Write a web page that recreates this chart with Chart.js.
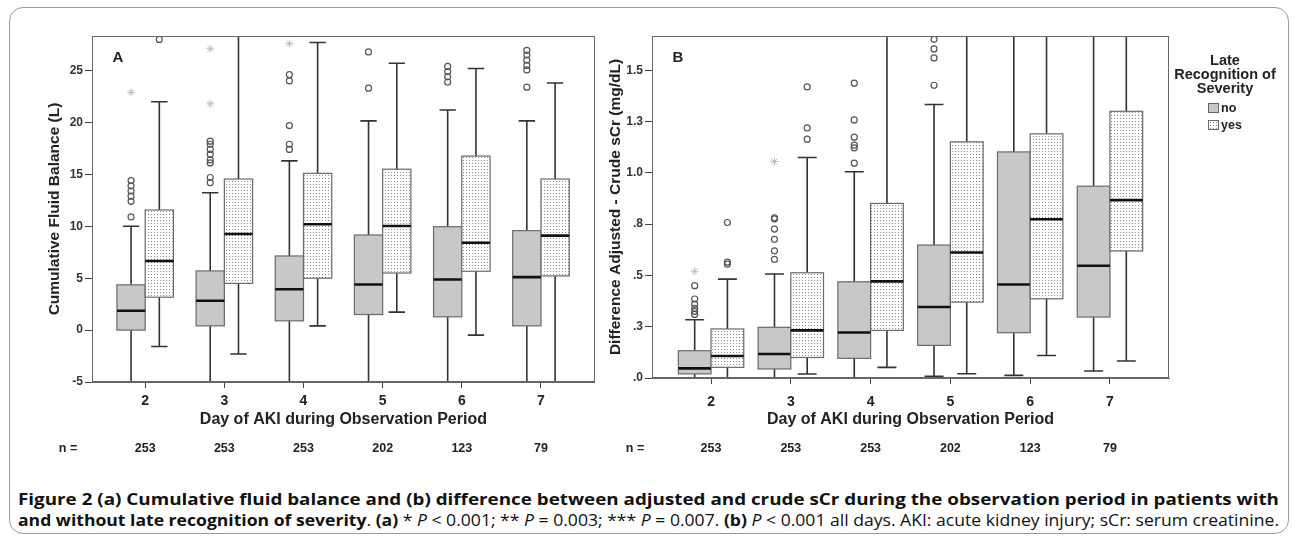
<!DOCTYPE html>
<html>
<head>
<meta charset="utf-8">
<script src="https://cdn.jsdelivr.net/npm/chart.js@4.4.1/dist/chart.umd.min.js"></script>
<style>
html,body{margin:0;padding:0;background:#fff;}
body{width:1294px;height:540px;overflow:hidden;position:relative;font-family:'Liberation Sans',Arial,sans-serif;color:#222;}
#frame{position:absolute;left:9px;top:7px;width:1280px;height:527px;border:1px solid #9a9a9a;border-radius:14px;box-sizing:border-box;}
#cA{position:absolute;left:0;top:0;}
#cB{position:absolute;left:600px;top:0;}
#legTitle{position:absolute;left:1165px;top:53px;width:120px;text-align:center;font-weight:bold;font-size:14.5px;line-height:14px;color:#222;}
.sw{position:absolute;left:1208px;width:9px;height:8px;border:1px solid #666;}
.swNo{top:103px;background:#c8c8c8;}
.swYes{top:120px;background-color:#fff;background-image:radial-gradient(#8f8f8f 0.6px, transparent 0.7px);background-size:3px 3px;}
.lt{position:absolute;left:1221px;font-weight:bold;font-size:12.5px;line-height:14px;color:#222;}
.cap{position:absolute;left:18px;white-space:nowrap;font-family:'Open Sans','Noto Sans',sans-serif;font-size:16.5px;line-height:20px;color:#111;transform-origin:0 0;}
.cap b{font-weight:700;}
</style>
</head>
<body>
<div id="frame"></div>
<canvas id="cA" width="600" height="470"></canvas>
<canvas id="cB" width="694" height="470"></canvas>
<div id="legTitle">Late<br>Recognition of<br>Severity</div>
<div class="sw swNo"></div><div class="lt" style="top:101px">no</div>
<div class="sw swYes"></div><div class="lt" style="top:118px">yes</div>
<div class="cap" id="cap1" style="top:489px"><b>Figure 2 (a) Cumulative fluid balance and (b) difference between adjusted and crude sCr during the observation period in patients with</b></div>
<div class="cap" id="cap2" style="top:510px"><b>and without late recognition of severity</b>. <b>(a)</b> * <i>P</i> &lt; 0.001; ** <i>P</i> = 0.003; *** <i>P</i> = 0.007. <b>(b)</b> <i>P</i> &lt; 0.001 all days. AKI: acute kidney injury; sCr: serum creatinine.</div>
<script>
// ---------- data ----------
const days = [2, 3, 4, 5, 6, 7];
const nCounts = [253, 253, 253, 202, 123, 79];
const yTicksA = [-5, 0, 5, 10, 15, 20, 25];
const yTicksB = [0, 0.25, 0.5, 0.75, 1, 1.25, 1.5];
const yTickLabelsB = ['.0', '.3', '.5', '.8', '1.0', '1.3', '1.5'];

// box stats per day: [lower whisker, Q1, median, Q3, upper whisker]
const aNoBox = [
  [-5, 0.0, 1.86, 4.36, 10.0],
  [-5, 0.41, 2.82, 5.7, 13.23],
  [-5, 0.89, 3.94, 7.14, 16.3],
  [-5, 1.5, 4.39, 9.16, 20.15],
  [-5, 1.28, 4.87, 9.96, 21.2],
  [-5, 0.41, 5.1, 9.58, 20.15]
];
const aYesBox = [
  [-1.58, 3.17, 6.66, 11.57, 22.0],
  [-2.3, 4.5, 9.26, 14.55, 28.5],
  [0.41, 5.0, 10.2, 15.1, 27.7],
  [1.73, 5.5, 10.03, 15.5, 25.7],
  [-0.48, 5.67, 8.42, 16.76, 25.2],
  [-5, 5.22, 9.1, 14.55, 23.8]
];
const aNoOut = [
  [10.9, 12.4, 12.9, 13.4, 13.9, 14.4],
  [14.2, 14.7, 16.1, 16.4, 16.95, 17.4, 17.9, 18.2],
  [17.4, 17.9, 19.7, 24.0, 24.6],
  [23.3, 26.8],
  [23.9, 24.4, 24.9, 25.4],
  [23.4, 25.06, 25.5, 26.0, 26.5, 26.95]
];
const aNoExt = [[22.9], [21.8, 27.1], [27.6], [], [], []];
const aYesOut = [[28.0], [], [], [], [], []];
const aYesExt = [[], [], [], [], [], []];

const bNoBox = [
  [0, 0.02, 0.047, 0.133, 0.284],
  [0, 0.044, 0.117, 0.247, 0.507],
  [0, 0.096, 0.222, 0.469, 1.005],
  [0.008, 0.159, 0.346, 0.648, 1.333],
  [0.013, 0.221, 0.456, 1.102, 1.7],
  [0.034, 0.297, 0.547, 0.935, 1.7]
];
const bYesBox = [
  [0, 0.052, 0.107, 0.239, 0.482],
  [0.0195, 0.1, 0.232, 0.513, 1.075],
  [0.052, 0.232, 0.471, 0.851, 1.7],
  [0.021, 0.37, 0.612, 1.151, 1.7],
  [0.11, 0.386, 0.774, 1.19, 1.7],
  [0.083, 0.619, 0.867, 1.3, 1.7]
];
const bNoOut = [
  [0.31, 0.325, 0.34, 0.36, 0.385, 0.45],
  [0.578, 0.62, 0.676, 0.726, 0.776, 0.781],
  [1.047, 1.122, 1.135, 1.174, 1.258, 1.437],
  [1.427, 1.56, 1.604, 1.651],
  [], []
];
const bNoExt = [[0.52], [1.055], [], [], [], []];
const bYesOut = [[0.555, 0.565, 0.758], [1.164, 1.219, 1.419], [], [], [], []];
const bYesExt = [[], [], [], [], [], []];

// ---------- drawing ----------
const F = "'Liberation Sans', Arial, sans-serif";

function dotPattern(ctx) {
  const c = document.createElement('canvas');
  c.width = 3; c.height = 3;
  const g = c.getContext('2d');
  g.fillStyle = '#ffffff'; g.fillRect(0, 0, 3, 3);
  g.fillStyle = '#8c8c8c'; g.fillRect(1, 1, 1, 1);
  return ctx.createPattern(c, 'repeat');
}

function makeBoxPlugin(cfg, pattern) {
  return {
    id: 'boxes',
    beforeDatasetsDraw(chart) {
      const {ctx, chartArea: ca} = chart;
      const xs = chart.scales.x, ys = chart.scales.y;
      const yp = v => ys.getPixelForValue(Math.max(ys.min, Math.min(ys.max, v)));
      ctx.save();
      ctx.beginPath();
      ctx.rect(ca.left, ca.top, ca.right - ca.left, ca.bottom - ca.top);
      ctx.clip();
      cfg.groups.forEach(g => {
        g.boxes.forEach((b, i) => {
          const [mn, q1, md, q3, mx] = b;
          const l = xs.getPixelForValue(days[i] + (g.side < 0 ? -cfg.boxW : 0));
          const r = xs.getPixelForValue(days[i] + (g.side < 0 ? 0 : cfg.boxW));
          const c = (l + r) / 2, cw = (r - l) * 0.29;
          ctx.strokeStyle = '#333'; ctx.lineWidth = 1.6;
          ctx.beginPath();
          ctx.moveTo(c, yp(q3)); ctx.lineTo(c, yp(mx));
          ctx.moveTo(c - cw, yp(mx)); ctx.lineTo(c + cw, yp(mx));
          ctx.moveTo(c, yp(q1)); ctx.lineTo(c, yp(mn));
          ctx.moveTo(c - cw, yp(mn)); ctx.lineTo(c + cw, yp(mn));
          ctx.stroke();
          const t = yp(q3), bt = yp(q1);
          ctx.fillStyle = g.pattern ? pattern : g.fill;
          ctx.fillRect(l, t, r - l, bt - t);
          ctx.strokeStyle = '#6a6a6a'; ctx.lineWidth = 1.2;
          ctx.strokeRect(l, t, r - l, bt - t);
          ctx.strokeStyle = '#111'; ctx.lineWidth = 2.6;
          ctx.beginPath(); ctx.moveTo(l, yp(md)); ctx.lineTo(r, yp(md)); ctx.stroke();
        });
      });
      ctx.restore();
    },
    afterDraw(chart) {
      const {ctx, chartArea: ca} = chart;
      const xs = chart.scales.x;
      ctx.save();
      ctx.strokeStyle = '#666'; ctx.lineWidth = 1;
      ctx.strokeRect(Math.round(ca.left) + 0.5, Math.round(ca.top) + 0.5,
        Math.round(ca.right - ca.left) - 1, Math.round(ca.bottom - ca.top) - 1);
      ctx.fillStyle = '#222';
      ctx.font = 'bold 15px ' + F;
      ctx.textAlign = 'left'; ctx.textBaseline = 'middle';
      ctx.fillText(cfg.letter, ca.left + 20.5, 58);
      ctx.font = 'bold 12.5px ' + F;
      ctx.textAlign = 'center';
      ctx.fillText('n =', cfg.nLabelX, 449);
      nCounts.forEach((n, i) => ctx.fillText(String(n), xs.getPixelForValue(days[i]), 449));
      ctx.restore();
    }
  };
}

function pts(arr, side, w) {
  const out = [];
  arr.forEach((vals, i) => vals.forEach(v => out.push({x: days[i] + side * w / 2, y: v})));
  return out;
}

function makeChart(id, cfg) {
  const canvas = document.getElementById(id);
  const ctx = canvas.getContext('2d');
  const pattern = dotPattern(ctx);
  const circ = {pointStyle: 'circle', pointRadius: 3, borderColor: '#555', backgroundColor: 'rgba(255,255,255,0)', borderWidth: 1.2};
  const star = {pointStyle: 'star', pointRadius: 4, borderColor: '#bdbdbd', backgroundColor: '#bdbdbd', borderWidth: 1};
  const datasets = [
    Object.assign({label: 'no outliers', data: pts(cfg.noOut, -1, cfg.boxW)}, circ),
    Object.assign({label: 'no extremes', data: pts(cfg.noExt, -1, cfg.boxW)}, star),
    Object.assign({label: 'yes outliers', data: pts(cfg.yesOut, 1, cfg.boxW)}, circ),
    Object.assign({label: 'yes extremes', data: pts(cfg.yesExt, 1, cfg.boxW)}, star)
  ];
  return new Chart(ctx, {
    type: 'scatter',
    data: {datasets},
    plugins: [makeBoxPlugin(cfg, pattern)],
    options: {
      responsive: false,
      animation: false,
      devicePixelRatio: 1,
      events: [],
      layout: {padding: {left: 0, top: 36, right: cfg.padRight, bottom: 0}},
      plugins: {legend: {display: false}, tooltip: {enabled: false}},
      scales: {
        x: {
          type: 'linear', position: 'bottom', min: cfg.xMin, max: cfg.xMax,
          afterBuildTicks: s => { s.ticks = days.map(v => ({value: v})); },
          afterFit: s => { s.height = cfg.xAxisH; },
          ticks: {callback: v => String(v), font: {family: F, size: 14, weight: 'bold'}, color: '#222', padding: cfg.xTickPad, maxRotation: 0, autoSkip: false},
          grid: {drawOnChartArea: false, drawTicks: true, tickLength: 6, color: '#444', lineWidth: 1},
          border: {display: true, color: '#666', width: 1},
          title: {display: true, text: 'Day of AKI during Observation Period', font: {family: F, size: 16, weight: 'bold'}, color: '#222', padding: {top: 0, bottom: 40.4}}
        },
        y: {
          type: 'linear', position: 'left', min: cfg.yMin, max: cfg.yMax,
          afterBuildTicks: s => { s.ticks = cfg.yTicks.map(v => ({value: v})); },
          afterFit: s => { s.width = cfg.yAxisW; },
          ticks: {callback: cfg.yLabel, font: {family: F, size: 12, weight: 'bold'}, color: '#333', padding: 2, autoSkip: false},
          grid: {drawOnChartArea: false, drawTicks: true, tickLength: 7, color: '#444', lineWidth: 1},
          border: {display: true, color: '#666', width: 1},
          title: {display: true, text: cfg.yTitle, font: {family: F, size: 15.5, weight: 'bold'}, color: '#222', padding: {top: cfg.yTitlePad, bottom: 0}}
        }
      }
    }
  });
}

makeChart('cA', {
  letter: 'A', boxW: 0.357, xMin: 1.328, xMax: 7.68, yMin: -5, yMax: 28.33,
  yTicks: yTicksA, yLabel: v => String(v),
  yTitle: 'Cumulative Fluid Balance (L)', yTitlePad: 45.7,
  padRight: 4, yAxisW: 92, xAxisH: 88, xTickPad: 5, nLabelX: 68,
  noOut: aNoOut, noExt: aNoExt, yesOut: aYesOut, yesExt: aYesExt,
  groups: [{side: -1, fill: '#c8c8c8', boxes: aNoBox}, {side: 1, pattern: true, boxes: aYesBox}]
});

makeChart('cB', {
  letter: 'B', boxW: 0.41, xMin: 1.26, xMax: 7.74, yMin: 0, yMax: 1.667,
  yTicks: yTicksB, yLabel: v => yTickLabelsB[yTicksB.indexOf(v)],
  yTitle: 'Difference Adjusted - Crude sCr (mg/dL)', yTitlePad: 6.7,
  padRight: 125, yAxisW: 52, xAxisH: 92, xTickPad: 9.3, nLabelX: 35,
  noOut: bNoOut, noExt: bNoExt, yesOut: bYesOut, yesExt: bYesExt,
  groups: [{side: -1, fill: '#c8c8c8', boxes: bNoBox}, {side: 1, pattern: true, boxes: bYesBox}]
});

function fitCaps() {
  ['cap1', 'cap2'].forEach(id => {
    const el = document.getElementById(id);
    el.style.transform = 'none';
    const w = el.getBoundingClientRect().width;
    el.style.transform = 'scaleX(' + (1261 / w) + ')';
  });
}
fitCaps();
if (document.fonts && document.fonts.ready) document.fonts.ready.then(fitCaps);
</script>
</body>
</html>
